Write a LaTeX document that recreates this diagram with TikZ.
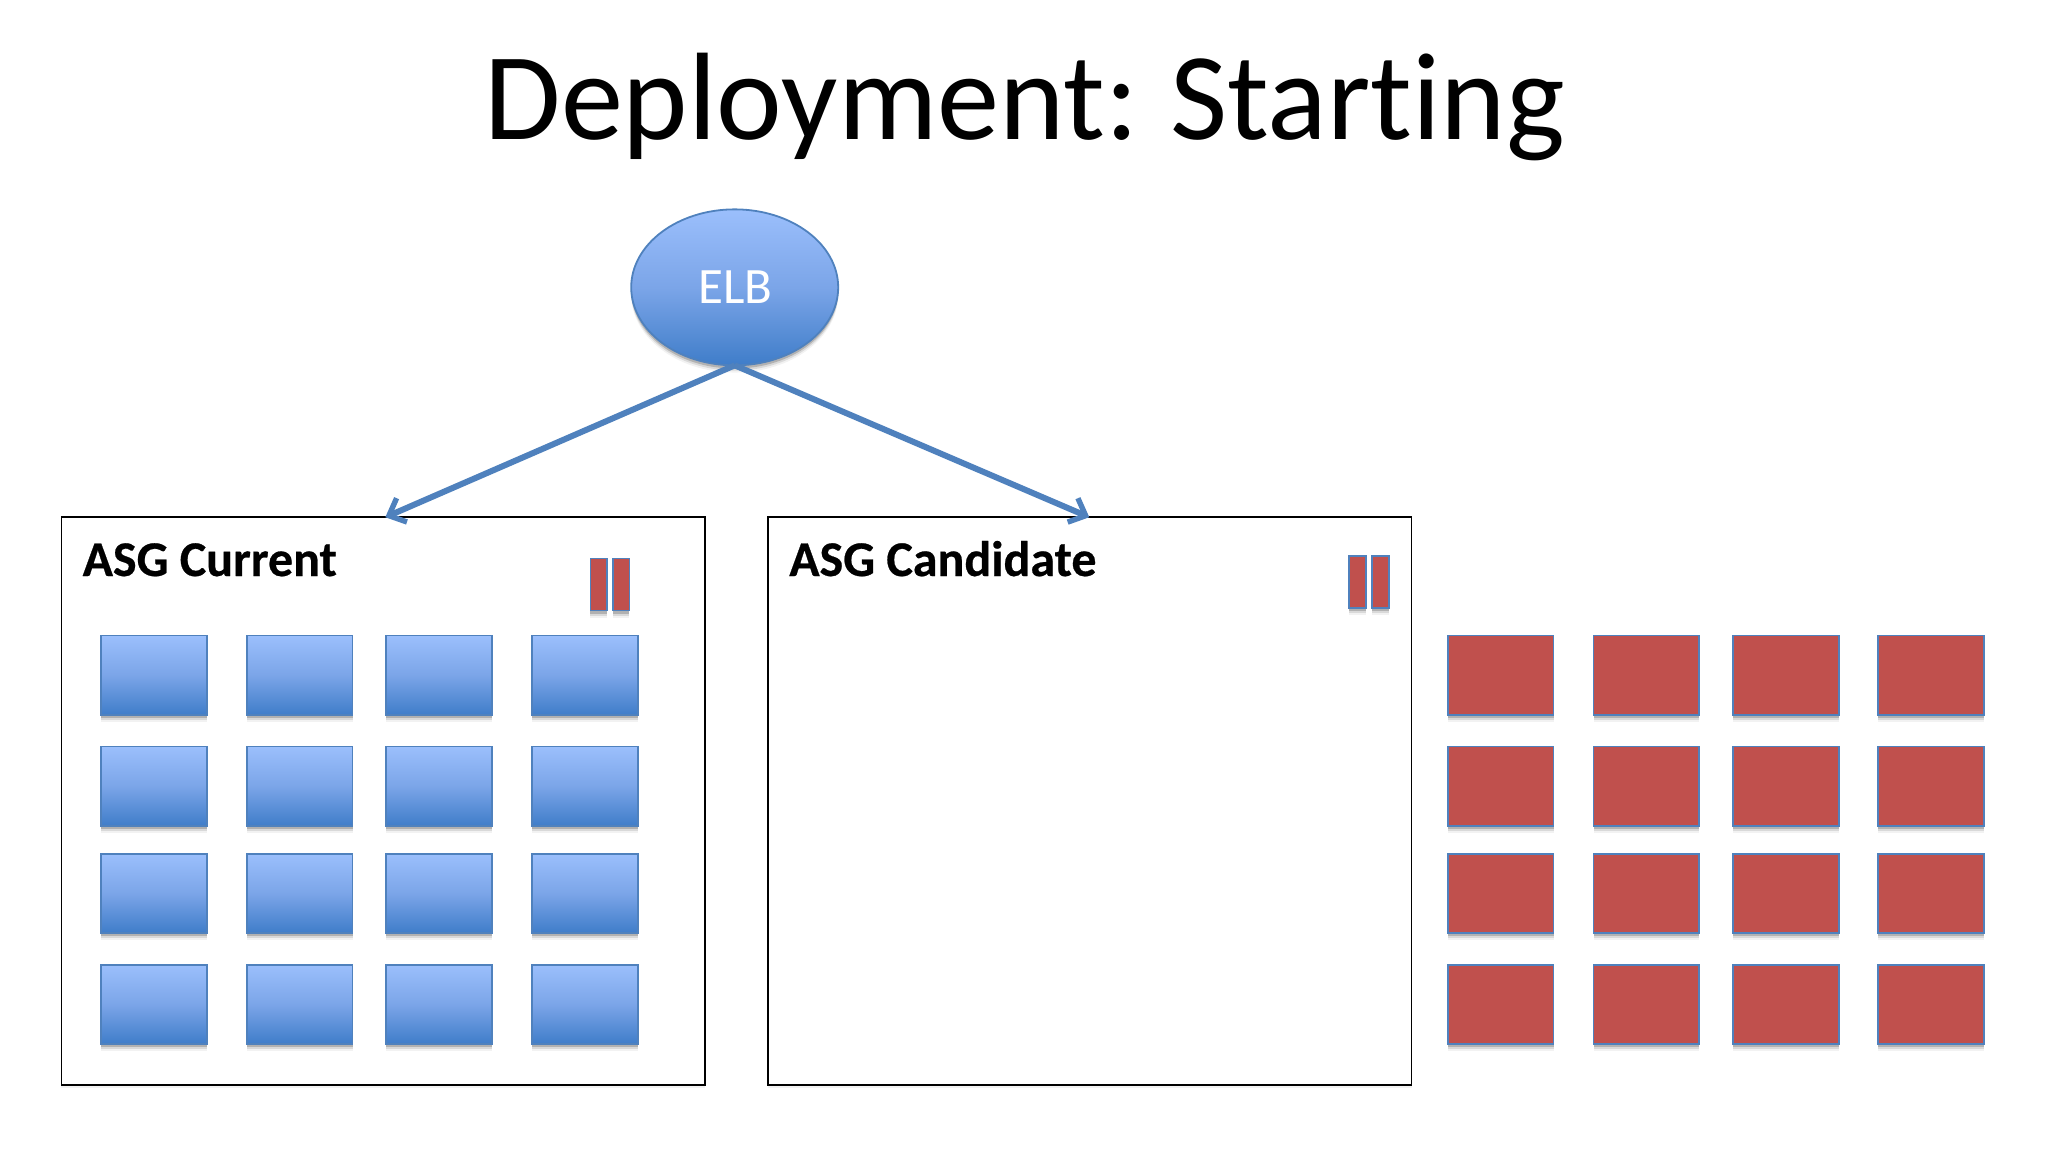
\documentclass[tikz,border=0pt]{standalone}
\usepackage{fontspec}
\setmainfont[Ligatures=NoCommon,WordSpace=0.8]{Carlito}
\newfontface\labelface[Ligatures=NoCommon,FakeBold=0.5]{Carlito Bold}
\usetikzlibrary{arrows.meta,shadows,shapes.geometric}
\definecolor{edgeblue}{HTML}{4F81BD}
\definecolor{topblue}{HTML}{9BBFFC}
\definecolor{midblue}{HTML}{7BA5E8}
\definecolor{botblue}{HTML}{3F7DC9}
\definecolor{brick}{HTML}{C0504D}
\tikzset{
  softshadow/.style={general shadow={shadow yshift=-3.6pt,fill=black,opacity=.05},
                     general shadow={shadow yshift=-2.6pt,fill=black,opacity=.10},
                     general shadow={shadow yshift=-1.6pt,fill=black,opacity=.18}},
  tile/.style={rectangle,draw=edgeblue,line width=0.9pt,inner sep=0pt,outer sep=0pt,
               minimum width=52.8pt,minimum height=39.8pt,softshadow},
  bluetile/.style={tile,top color=topblue,bottom color=botblue,middle color=midblue},
  redtile/.style={tile,fill=brick},
  pausebar/.style={rectangle,draw=edgeblue,line width=0.9pt,fill=brick,inner sep=0pt,outer sep=0pt,
               minimum width=8.4pt,minimum height=26pt,softshadow},
  groupbox/.style={rectangle,draw=black,line width=0.9pt,fill=white,inner sep=0pt,outer sep=0pt,
               minimum width=321.6pt,minimum height=284pt,
               general shadow={shadow yshift=-1.5pt,fill=black,opacity=.05}},
  grouplabel/.style={anchor=base west,inner sep=0pt,font=\fontsize{25}{30}\labelface,text=black},
  link/.style={draw=edgeblue,line width=3pt,-{Straight Barb[length=7pt,width=13pt,line width=2.7pt]}}
}
\begin{document}
\begin{tikzpicture}[x=0.65306pt,y=-0.65306pt]
\useasboundingbox (0,0) rectangle (1568,882);
\node[anchor=base,inner sep=0pt,font=\fontsize{62.2}{74}\selectfont] (title) at (784.5,107) {Deployment: Starting};
\node[groupbox] (cur) at (293.25,613.5) {};
\node[groupbox] (cand) at (834.5,613.5) {};
\node[grouplabel] (curlabel) at (63,441) {ASG Current};
\node[grouplabel] (candlabel) at (604,441) {ASG Candidate};
\foreach \r/\y in {1/517,2/602,3/684,4/769}{
  \foreach \c/\x in {1/118,2/229.5,3/336,4/448}{
    \node[bluetile] (b\r\c) at (\x,\y) {};
  }
  \foreach \c/\x in {1/1149,2/1260.5,3/1367.5,4/1478.5}{
    \node[redtile] (r\r\c) at (\x,\y) {};
  }
}
\node[pausebar] (p1) at (458.5,447.5) {};
\node[pausebar] (p2) at (475.5,447.5) {};
\node[pausebar] (p3) at (1039.5,445.5) {};
\node[pausebar] (p4) at (1057,445.5) {};
\node[ellipse,draw=edgeblue,line width=0.9pt,top color=topblue,bottom color=botblue,middle color=midblue,
      minimum width=103.5pt,minimum height=78pt,inner sep=0pt,outer sep=0pt,softshadow] (elb) at (562.5,220) {};
\node[anchor=base,inner sep=0pt,text=white,font=\fontsize{25.5}{30}\selectfont] (elbtext) at (563,232) {ELB};
\coordinate (curtip) at (295,396);
\coordinate (candtip) at (834,396);
\draw[link] (elb.south) -- (curtip);
\draw[link] (elb.south) -- (candtip);
\end{tikzpicture}
\end{document}
